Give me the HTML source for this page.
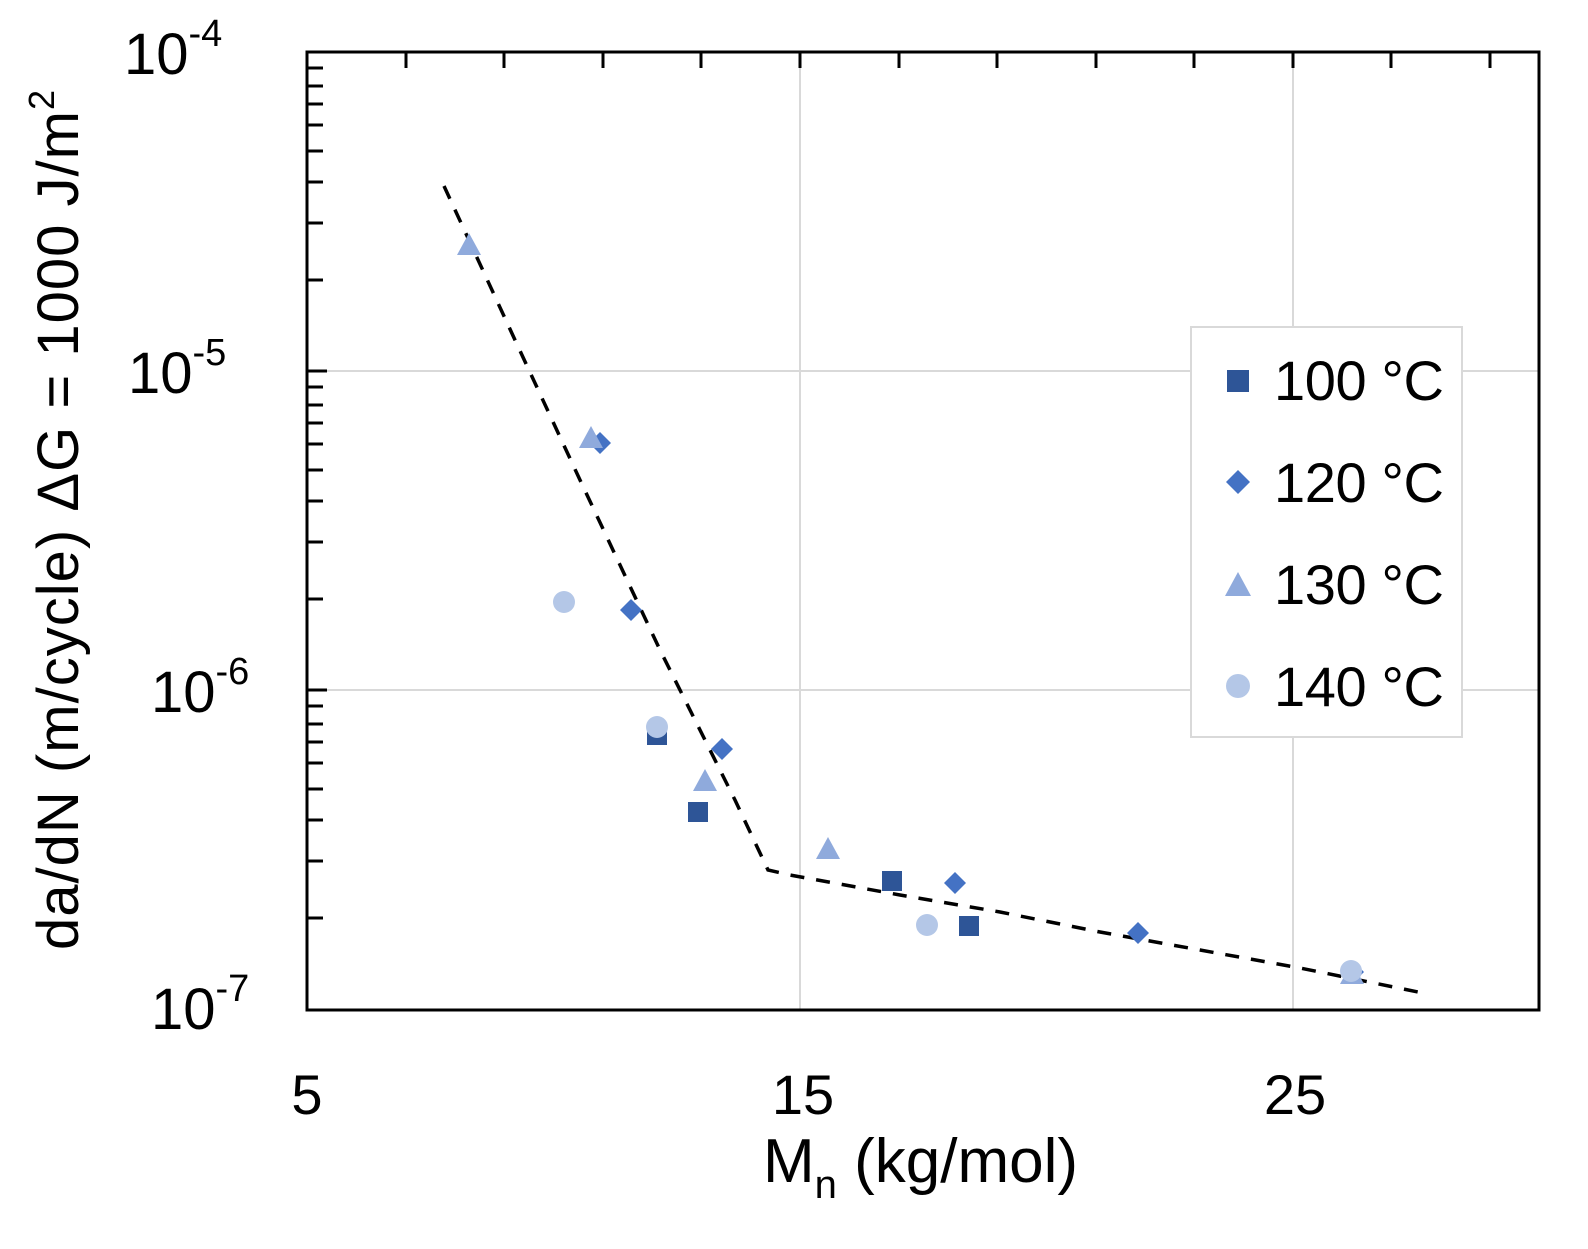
<!DOCTYPE html>
<html><head><meta charset="utf-8"><style>
body{margin:0;background:#fff;}
svg text{font-family:"Liberation Sans",sans-serif;fill:#000;}
</style></head><body>
<svg width="1588" height="1244" xmlns="http://www.w3.org/2000/svg">
<rect width="1588" height="1244" fill="#fff"/>
<g stroke="#d9d9d9" stroke-width="2">
<line x1="800" y1="52" x2="800" y2="1010"/>
<line x1="1293" y1="52" x2="1293" y2="1010"/>
<line x1="307" y1="371" x2="1539" y2="371"/>
<line x1="307" y1="690" x2="1539" y2="690"/>
</g>
<g stroke="#000" stroke-width="3">
<line x1="307" y1="68" x2="323" y2="68"/>
<line x1="307" y1="86" x2="323" y2="86"/>
<line x1="307" y1="104" x2="323" y2="104"/>
<line x1="307" y1="125" x2="323" y2="125"/>
<line x1="307" y1="151" x2="323" y2="151"/>
<line x1="307" y1="182" x2="323" y2="182"/>
<line x1="307" y1="223" x2="323" y2="223"/>
<line x1="307" y1="280" x2="323" y2="280"/>
<line x1="307" y1="371" x2="327" y2="371"/>
<line x1="307" y1="387" x2="323" y2="387"/>
<line x1="307" y1="405" x2="323" y2="405"/>
<line x1="307" y1="423" x2="323" y2="423"/>
<line x1="307" y1="444" x2="323" y2="444"/>
<line x1="307" y1="470" x2="323" y2="470"/>
<line x1="307" y1="501" x2="323" y2="501"/>
<line x1="307" y1="542" x2="323" y2="542"/>
<line x1="307" y1="599" x2="323" y2="599"/>
<line x1="307" y1="690" x2="327" y2="690"/>
<line x1="307" y1="706" x2="323" y2="706"/>
<line x1="307" y1="724" x2="323" y2="724"/>
<line x1="307" y1="742" x2="323" y2="742"/>
<line x1="307" y1="763" x2="323" y2="763"/>
<line x1="307" y1="789" x2="323" y2="789"/>
<line x1="307" y1="820" x2="323" y2="820"/>
<line x1="307" y1="861" x2="323" y2="861"/>
<line x1="307" y1="918" x2="323" y2="918"/>
</g>
<g stroke="#000" stroke-width="3">
<line x1="406" y1="52" x2="406" y2="68"/><line x1="504" y1="52" x2="504" y2="68"/>
<line x1="603" y1="52" x2="603" y2="68"/><line x1="701" y1="52" x2="701" y2="68"/>
<line x1="800" y1="52" x2="800" y2="68"/><line x1="899" y1="52" x2="899" y2="68"/>
<line x1="997" y1="52" x2="997" y2="68"/><line x1="1096" y1="52" x2="1096" y2="68"/>
<line x1="1194" y1="52" x2="1194" y2="68"/><line x1="1293" y1="52" x2="1293" y2="68"/>
<line x1="1391" y1="52" x2="1391" y2="68"/><line x1="1490" y1="52" x2="1490" y2="68"/>
</g>
<rect x="307" y="52" width="1232" height="958" fill="none" stroke="#000" stroke-width="3"/>
<polyline points="444,186 515,340 580,480 660,650 735,800 768,870 790,875 900,895 1000,912 1100,932 1200,950 1300,968 1428,994" fill="none" stroke="#000" stroke-width="3.5" stroke-dasharray="14,12"/>
<g fill="#2E5597">
<rect x="647" y="725" width="20" height="20"/><rect x="688" y="802" width="20" height="20"/>
<rect x="882" y="871" width="20" height="20"/><rect x="959" y="916" width="20" height="20"/>
</g>
<g fill="#4472C4">
<path d="M600 432l11 11-11 11-11-11z"/><path d="M631 599l11 11-11 11-11-11z"/>
<path d="M722 738l11 11-11 11-11-11z"/><path d="M955 872l11 11-11 11-11-11z"/>
<path d="M1138 922l11 11-11 11-11-11z"/><path d="M1355 963l9 9-9 9-9-9z"/>
</g>
<g fill="#8FAADC">
<path d="M469 233l12 22h-24z"/><path d="M591 426l12 22h-24z"/>
<path d="M705 769l12 22h-24z"/><path d="M828 837l12 22h-24z"/><path d="M1352 962l12 22h-24z"/>
</g>
<g fill="#B4C7E7">
<circle cx="564" cy="602" r="11"/><circle cx="657" cy="727" r="11"/>
<circle cx="927" cy="925" r="11"/><circle cx="1351" cy="971" r="11"/>
</g>
<rect x="1191" y="327" width="271" height="410" fill="#fff" stroke="#d9d9d9" stroke-width="2"/>
<rect x="1227" y="370" width="22" height="22" fill="#2E5597"/>
<path d="M1238 470l12 12-12 12-12-12z" fill="#4472C4"/>
<path d="M1238 572l13 24h-26z" fill="#8FAADC"/>
<circle cx="1238" cy="686" r="12" fill="#B4C7E7"/>
<g font-size="56">
<text x="1274" y="400" textLength="170">100 °C</text>
<text x="1274" y="502" textLength="170">120 °C</text>
<text x="1274" y="604" textLength="170">130 °C</text>
<text x="1274" y="706" textLength="170">140 °C</text>
</g>
<g font-size="58">
<text x="124" y="74">10<tspan font-size="38" dy="-28">-4</tspan></text>
<text x="128" y="393">10<tspan font-size="38" dy="-28">-5</tspan></text>
<text x="151" y="712">10<tspan font-size="38" dy="-28">-6</tspan></text>
<text x="151" y="1029">10<tspan font-size="38" dy="-28">-7</tspan></text>
</g>
<g font-size="56" text-anchor="middle">
<text x="307" y="1114">5</text>
<text x="803" y="1114">15</text>
<text x="1295" y="1114">25</text>
</g>
<text font-size="62" x="763" y="1182">M<tspan font-size="40" dy="16">n</tspan><tspan dy="-16"> (kg/mol)</tspan></text>
<text font-size="58" text-anchor="middle" transform="translate(78,520) rotate(-90)" textLength="860">da/dN (m/cycle)  ΔG = 1000 J/m<tspan font-size="36" dy="-24">2</tspan></text>
</svg>
</body></html>
